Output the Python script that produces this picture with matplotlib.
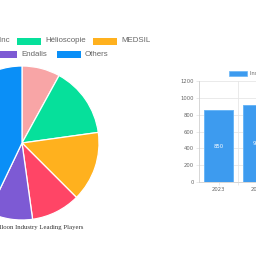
import matplotlib
matplotlib.use("Agg")
import matplotlib.pyplot as plt
from matplotlib.patches import Rectangle

# pie: market share of leading players (%)
players = ["Apollo Endosurgery Inc", "Hélioscopie", "MEDSIL", "Spatz Medical", "Endalis", "Others"]
shares = [8.0, 14.8, 14.7, 10.3, 9.3, 42.9]
pie_colors = ["#f8a5a6", "#06e09b", "#ffb11e", "#ff4566", "#7d5ad4", "#0a8ff7"]

# bar: yearly values
years = ["2023", "2024"]
values = [850, 920]
bar_label = "Installed Base"

W = H = 256


def fx(px):
    return px / W


def fy(py):
    return 1 - py / H


fig = plt.figure(figsize=(2.56, 2.56), dpi=100)
fig.patch.set_facecolor("white")

# ---- pie ----
cx, cy, r = 22, 143, 77
ax_pie = fig.add_axes([fx(cx - r), fy(cy + r), 2 * r / W, 2 * r / H])
ax_pie.pie(shares, colors=pie_colors, startangle=90, counterclock=False, radius=1,
           wedgeprops=dict(edgecolor="white", linewidth=0.9))
ax_pie.set_xlim(-1, 1)
ax_pie.set_ylim(-1, 1)
ax_pie.set_axis_off()

fig.text(fx(83), fy(227), "Intragastric Balloon Industry Leading Players", ha="right", va="center",
         fontsize=4.9, color="#333333", family="Liberation Serif")

# legend, flowed like the original (rows of boxes + labels)
leg_font = dict(fontsize=5.7, color="#666666", family="Liberation Sans", va="center")
# (label index, box left px, row centre px, text aligned right at px or None)
rows = [
    (0, -110, 41, 9.5),
    (1, 17, 41, None),
    (2, 93, 41, None),
    (3, -60, 54, -14),
    (4, -7, 54, None),
    (5, 57, 54, None),
]
for i, bx, ry, right_end in rows:
    fig.patches.append(Rectangle((fx(bx), fy(ry + 3.5)), 24 / W, 7 / H, transform=fig.transFigure,
                                 facecolor=pie_colors[i], edgecolor="none"))
    if right_end is None:
        fig.text(fx(bx + 28), fy(ry), players[i], ha="left", **leg_font)
    else:
        fig.text(fx(right_end), fy(ry), players[i], ha="right", **leg_font)

# ---- bars ----
left, bottom, top, cat_w = 199, 182, 81, 39
ax_bar = fig.add_axes([fx(left), fy(bottom), len(years) * cat_w / W, (bottom - top) / H])
x = list(range(len(years)))
bars = ax_bar.bar(x, values, width=0.72, color="#3d9bef", edgecolor="#6ab6f6", linewidth=0.7, zorder=3)
for b, v in zip(bars, values):
    ax_bar.text(b.get_x() + b.get_width() / 2, v / 2, str(v), ha="center", va="center",
                fontsize=3.8, color="white", zorder=4)
ax_bar.set_xlim(-0.5, len(years) - 0.5)
ax_bar.set_ylim(0, 1200)
ax_bar.set_yticks(range(0, 1201, 200))
ax_bar.set_xticks(x)
ax_bar.set_xticklabels(years)
ax_bar.set_xticks([i + 0.5 for i in x], minor=True)
ax_bar.grid(True, axis="y", color="#e6e6e6", linewidth=0.6, zorder=0)
ax_bar.grid(True, axis="x", which="minor", color="#e6e6e6", linewidth=0.6, zorder=0)
ax_bar.tick_params(axis="both", which="both", labelsize=3.8, labelcolor="#666666",
                   length=2, width=0.5, color="#e0e0e0", pad=1.5)
for side in ["top", "right"]:
    ax_bar.spines[side].set_visible(False)
for side in ["left", "bottom"]:
    ax_bar.spines[side].set_color("#d0d0d0")
    ax_bar.spines[side].set_linewidth(0.6)

fig.patches.append(Rectangle((fx(229), fy(76)), 18 / W, 5 / H, transform=fig.transFigure,
                             facecolor="#3d9bef", edgecolor="#6ab6f6", linewidth=0.5))
fig.text(fx(250), fy(73.5), bar_label, ha="left", va="center", fontsize=4, color="#666666",
         family="Liberation Sans")

fig.savefig("out.png", dpi=100)
